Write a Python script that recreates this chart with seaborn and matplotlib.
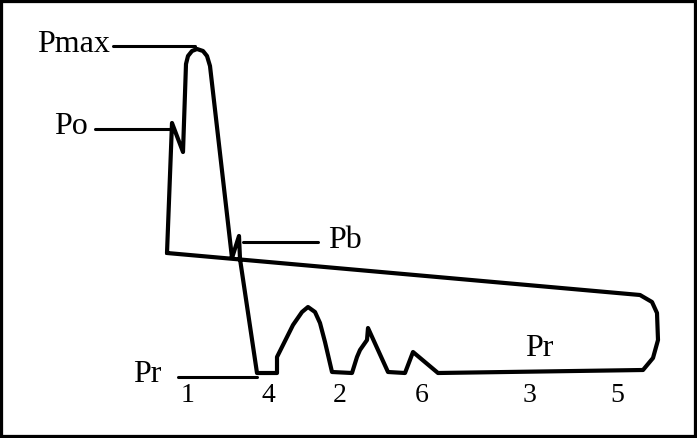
import matplotlib
matplotlib.use("Agg")

import numpy as np
import pandas as pd
import matplotlib.pyplot as plt
import seaborn as sns

# ======================================
# Data (picture units: x to the right, y downwards)
# ======================================

cycle_x = [
    167, 172, 183, 186, 188, 192, 197, 203, 207, 210,
    232, 239, 240, 257, 277, 277, 283, 293, 302, 308,
    315, 320, 325, 332, 352, 357, 360, 367, 368, 388,
    405, 413, 438, 643, 653, 658, 657, 652, 640, 167
]

cycle_y = [
    253, 123, 152, 64, 56, 51, 49, 51, 56, 66,
    258, 236, 259, 373, 373, 357, 345, 325, 312, 307,
    312, 323, 342, 372, 373, 357, 350, 340, 328, 372,
    373, 352, 373, 370, 358, 340, 313, 302, 295, 253
]

label_names = ["Pmax", "Po", "Pb", "Pr"]
label_x = [74, 71, 345, 147]
label_y = [44, 127, 240, 375]
leader_start = [113, 95, 243, 178]
leader_end = [195, 172, 318, 257]

inner_label = "Pr"
inner_label_x = 539
inner_label_y = 349

stage_names = ["1", "4", "2", "6", "3", "5"]
stage_x = [188, 268, 340, 422, 530, 617]
stage_y = 395

# ======================================
# Figure
# ======================================

sns.set_style("white")
plt.rcParams["font.family"] = ["Liberation Serif", "DejaVu Serif"]
plt.rcParams["text.color"] = "black"

fig = plt.figure(
    figsize=(6.97, 4.38),
    dpi=100
)

ax = fig.add_axes([0, 0, 1, 1])

cycle = pd.DataFrame({
    "x": cycle_x,
    "y": cycle_y
})

sns.lineplot(
    data=cycle,
    x="x",
    y="y",
    sort=False,
    estimator=None,
    color="black",
    linewidth=3.0,
    ax=ax
)

# leader lines and labels
for name, tx, ty, x0, x1 in zip(
    label_names,
    label_x,
    label_y,
    leader_start,
    leader_end
):
    ax.plot(
        [x0, x1],
        [ty + 2, ty + 2],
        color="black",
        linewidth=2.2
    )
    ax.text(
        tx,
        ty,
        name,
        fontsize=23,
        color="black",
        ha="center",
        va="center"
    )

ax.text(
    inner_label_x,
    inner_label_y,
    inner_label,
    fontsize=23,
    color="black",
    ha="center",
    va="center"
)

for name, sx in zip(stage_names, stage_x):
    ax.text(
        sx,
        stage_y,
        name,
        fontsize=20,
        color="black",
        ha="center",
        va="center"
    )

ax.set_xlim(0, 697)
ax.set_ylim(438, 0)
ax.set_xticks([])
ax.set_yticks([])
ax.set_xlabel("")
ax.set_ylabel("")

for spine in ax.spines.values():
    spine.set_visible(True)
    spine.set_color("black")
    spine.set_linewidth(4.5)

fig.savefig("out.png", dpi=100)
plt.close(fig)
